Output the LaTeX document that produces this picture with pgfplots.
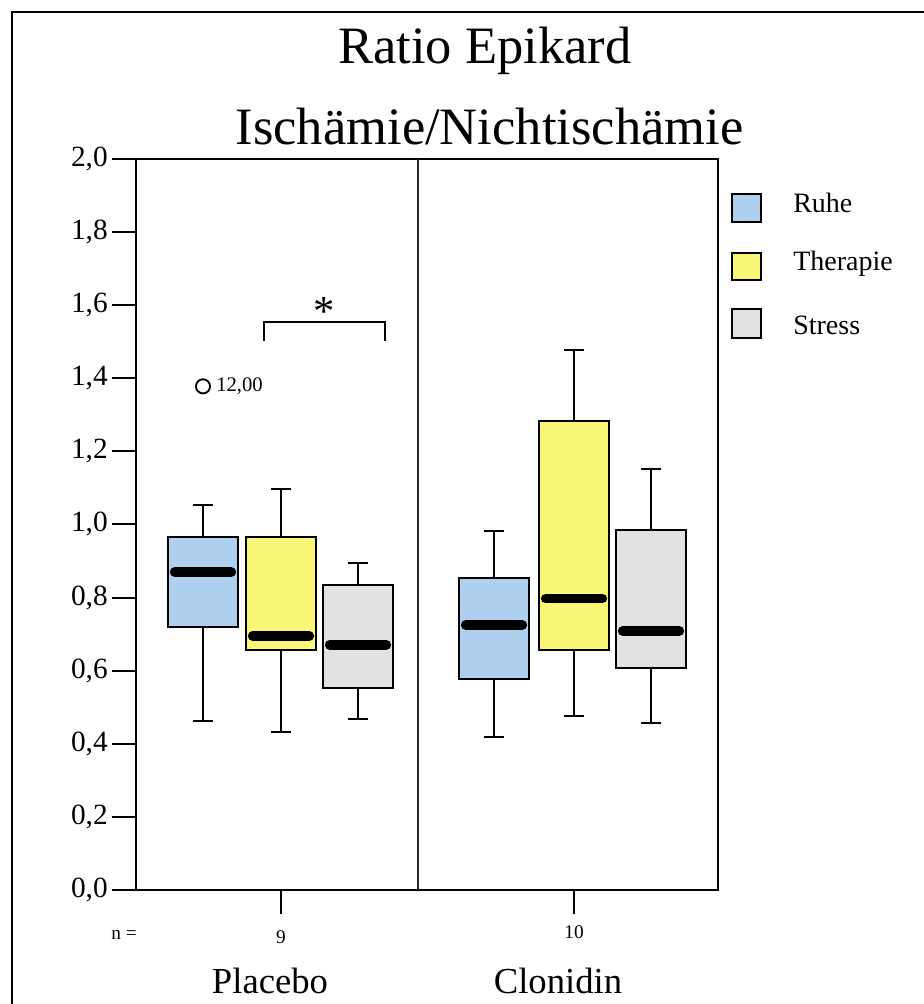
\documentclass[border=0pt]{standalone}
\usepackage{pgfplots}
\pgfplotsset{compat=1.18}
\usepgfplotslibrary{statistics}
\usepackage{fontspec}
\setmainfont{Liberation Serif}
\definecolor{ruhe}{RGB}{174,208,238}
\definecolor{therapie}{RGB}{250,246,120}
\definecolor{stress}{RGB}{226,226,226}
\pgfplotsset{
  bx/.style 2 args={boxplot prepared={box extend=70, whisker extend=20,
    every box/.style={draw=black, fill=#2, line width=1.5pt},
    every whisker/.style={black, line width=1.5pt},
    every median/.style={black, line width=7.2pt, line cap=round, shorten <=5pt, shorten >=5pt}, #1},
    black, mark=o, mark size=5.3pt, mark options={black, line width=1.4pt, fill=none}},
}
\begin{document}
\begin{tikzpicture}
\useasboundingbox (-102pt,-85.5pt) rectangle (591pt,667.5pt);
\begin{axis}[
  at={(0pt,0pt)}, anchor=south west,
  scale only axis, width=436.5pt, height=548.25pt,
  xmin=136, xmax=718, ymin=0, ymax=2,
  axis line style={line width=1.5pt},
  tick align=outside, major tick length=18pt,
  tick style={line width=1.5pt, black},
  xtick={281,574}, xticklabels={9,\raisebox{4pt}{10}},
  ytick={0,0.2,0.4,0.6,0.8,1.0,1.2,1.4,1.6,1.8,2.0},
  xtick pos=bottom, ytick pos=left,
  minor tick num=0,
  /pgf/number format/assume math mode=true,
  yticklabel style={font=\fontsize{22}{22}\selectfont, inner sep=0pt, xshift=-3pt,
    /pgf/number format/.cd, use comma, fixed, fixed zerofill, precision=1},
  xticklabel style={font=\fontsize{14.5}{14.5}\selectfont, anchor=base, yshift=-22pt},
  clip=false,
  boxplot/draw direction=y,
]
% Placebo
\addplot[bx={draw position=203, lower whisker=0.463, lower quartile=0.720, median=0.870, upper quartile=0.967, upper whisker=1.054}{ruhe}] coordinates {(0,1.378)};
\addplot[bx={draw position=281, lower whisker=0.433, lower quartile=0.656, median=0.695, upper quartile=0.967, upper whisker=1.097}{therapie}] coordinates {};
\addplot[bx={draw position=358, lower whisker=0.468, lower quartile=0.553, median=0.671, upper quartile=0.834, upper whisker=0.895}{stress}] coordinates {};
% Clonidin
\addplot[bx={draw position=494, lower whisker=0.419, lower quartile=0.577, median=0.725, upper quartile=0.854, upper whisker=0.981}{ruhe}] coordinates {};
\addplot[bx={draw position=574, lower whisker=0.477, lower quartile=0.656, median=0.797, upper quartile=1.284, upper whisker=1.477}{therapie}] coordinates {};
\addplot[bx={draw position=651, lower whisker=0.457, lower quartile=0.608, median=0.709, upper quartile=0.986, upper whisker=1.152}{stress}] coordinates {};
% divider
\draw[line width=0.9pt, black!85] (axis cs:418,0) -- (axis cs:418,2);
% significance bracket
\draw[line width=1.6pt] (axis cs:264,1.502) -- (axis cs:264,1.554) -- (axis cs:385,1.554) -- (axis cs:385,1.502);
\node[anchor=base, inner sep=0pt, font=\fontsize{32}{32}\selectfont] at (axis cs:324,1.545) {*};
\node[anchor=base west, inner sep=0pt, font=\fontsize{15.5}{15.5}\selectfont] at (axis cs:216,1.363) {12,00};
\end{axis}
\begin{scope}[xshift=-102pt, yshift=667.5pt, x=0.75pt, y=-0.75pt]
  % outer frame
  \draw[line width=1.5pt] (12.5,1010) -- (12.5,12.5) -- (930,12.5);
  % titles
  \node[anchor=base, inner sep=0pt, font=\fontsize{39.4}{40}\selectfont] at (485,64) {Ratio Epikard};
  \node[anchor=base, inner sep=0pt, font=\fontsize{39.4}{40}\selectfont] at (489.5,145) {Ischämie/Nichtischämie};
  % group labels
  \node[anchor=base, inner sep=0pt, font=\fontsize{27.5}{28}\selectfont] at (270,993) {Placebo};
  \node[anchor=base, inner sep=0pt, font=\fontsize{27.5}{28}\selectfont] at (558,993) {Clonidin};
  \node[anchor=base, inner sep=0pt, font=\fontsize{14.5}{14.5}\selectfont] at (124,939) {n =};
  % legend
  \draw[line width=1.4pt, fill=ruhe] (732,194) rectangle (761,222);
  \draw[line width=1.4pt, fill=therapie] (732,253) rectangle (761,280);
  \draw[line width=1.4pt, fill=stress] (732,309) rectangle (761,338);
  \node[anchor=base west, inner sep=0pt, font=\fontsize{21}{21}\selectfont] at (793,213) {Ruhe};
  \node[anchor=base west, inner sep=0pt, font=\fontsize{21}{21}\selectfont] at (793,271) {Therapie};
  \node[anchor=base west, inner sep=0pt, font=\fontsize{21}{21}\selectfont] at (793,335) {Stress};
\end{scope}
\end{tikzpicture}
\end{document}
